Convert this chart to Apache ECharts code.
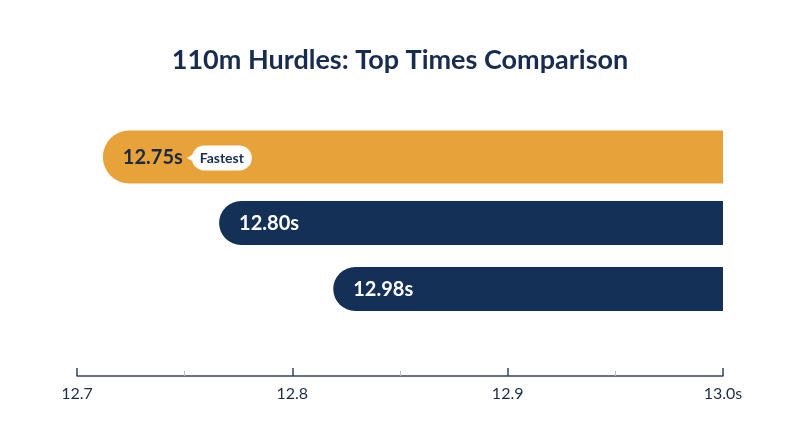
<!DOCTYPE html>
<html>
<head>
<meta charset="utf-8">
<script src="https://cdn.jsdelivr.net/npm/echarts@6/dist/echarts.min.js"></script>
<style>
html,body{margin:0;padding:0;background:#fff;}
#chart{width:800px;height:447px;}
</style>
</head>
<body>
<div id="chart"></div>
<script>
// ---- data ----
const categories = ['Fastest', 'Second', 'Third'];
const timeLabels = ['12.75s', '12.80s', '12.98s'];     // printed times
const barStarts = [12.712, 12.766, 12.819];            // bar left ends
const axisMin = 12.7;
const axisMax = 13.0;
const tickLabels = ['12.7', '12.8', '12.9', '13.0s'];
const badgeText = 'Fastest';

const NAVY = '#153057';
const ORANGE = '#E8A23A';

const chart = echarts.init(document.getElementById('chart'));

const seriesData = categories.map((c, i) => [i, barStarts[i], timeLabels[i]]);

const option = {
  backgroundColor: '#ffffff',
  animation: false,
  title: {
    text: '110m Hurdles: Top Times Comparison',
    left: 'center',
    top: 42,
    textStyle: { fontFamily: 'Lato', fontWeight: 'bold', fontSize: 27, color: '#172c4e' }
  },
  grid: { left: 77, right: 77, top: 124, height: 198 },
  xAxis: {
    type: 'value',
    min: axisMin,
    max: axisMax,
    interval: 0.1,
    offset: 54,
    axisLine: { show: true, lineStyle: { color: '#34445e', width: 1.5 } },
    axisTick: { show: true, inside: true, length: 8, lineStyle: { color: '#34445e', width: 1.5 } },
    minorTick: { show: true, splitNumber: 2, length: 5, lineStyle: { color: '#b5bcc7', width: 1 } },
    splitLine: { show: false },
    axisLabel: {
      margin: 10,
      fontFamily: 'Lato',
      fontSize: 16,
      color: '#1d2b48',
      formatter: function (v) {
        const k = Math.round((v - axisMin) / 0.1);
        return tickLabels[k] !== undefined ? tickLabels[k] : '';
      }
    }
  },
  yAxis: {
    type: 'category',
    data: categories,
    inverse: true,
    show: false
  },
  series: [{
    type: 'custom',
    clip: false,
    encode: { x: 1, y: 0 },
    data: seriesData,
    renderItem: function (params, api) {
      const idx = api.value(0);
      const p0 = api.coord([api.value(1), idx]);
      const p1 = api.coord([axisMax, idx]);
      const band = api.size([0, 1])[1];
      const h = idx === 0 ? band * 0.8 : band * 0.667;
      const r = h / 2;
      const cy = p0[1];
      const isFast = idx === 0;
      const labelX = p0[0] + 20;
      const children = [
        {
          type: 'rect',
          shape: { x: p0[0], y: cy - h / 2, width: p1[0] - p0[0], height: h, r: [r, 0, 0, r] },
          style: { fill: isFast ? ORANGE : NAVY }
        },
        {
          type: 'text',
          style: {
            text: timeLabels[idx],
            x: labelX,
            y: cy + 1,
            verticalAlign: 'middle',
            align: 'left',
            fill: isFast ? '#1b2a44' : '#ffffff',
            font: 'bold 20px Lato'
          }
        }
      ];
      if (isFast) {
        const bx = labelX + 69;
        const bh = 25;
        children.push({
          type: 'rect',
          shape: { x: bx, y: cy + 1 - bh / 2, width: 60, height: bh, r: bh / 2 },
          style: { fill: '#ffffff' }
        });
        children.push({
          type: 'polygon',
          shape: { points: [[bx - 5, cy + 1], [bx + 4, cy - 4], [bx + 4, cy + 6]] },
          style: { fill: '#ffffff' }
        });
        children.push({
          type: 'text',
          style: {
            text: badgeText,
            x: bx + 30,
            y: cy + 1,
            align: 'center',
            verticalAlign: 'middle',
            fill: '#172c4e',
            font: 'bold 14px Lato'
          }
        });
      }
      return { type: 'group', children: children };
    }
  }]
};

chart.setOption(option);
</script>
</body>
</html>
